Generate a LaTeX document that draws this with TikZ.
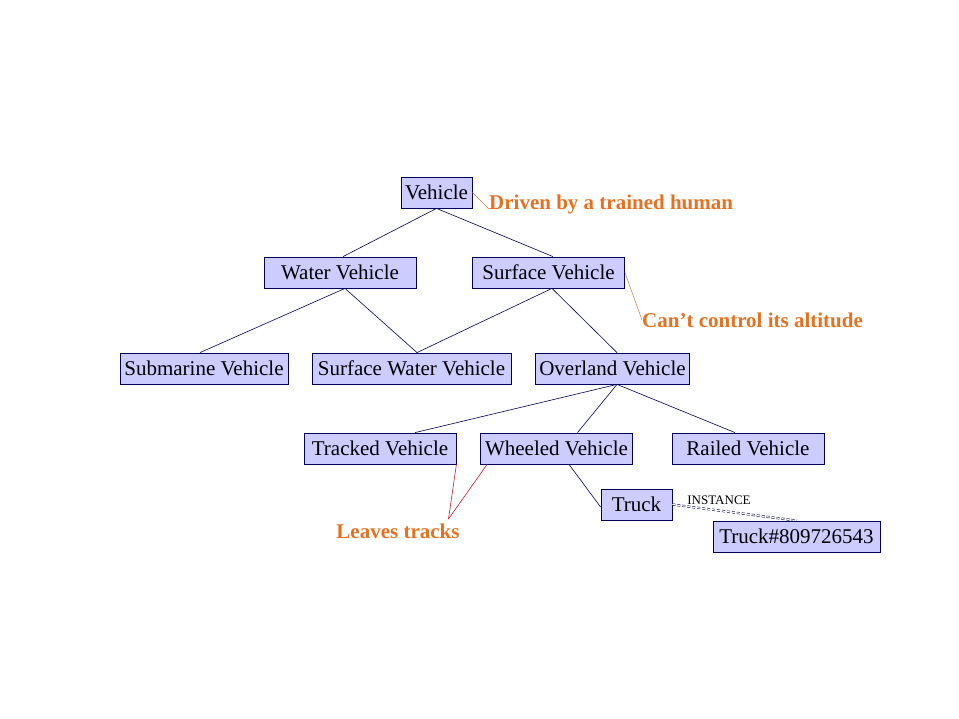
\documentclass[tikz,border=0pt]{standalone}
\usepackage{fontspec}
\setmainfont{Liberation Serif}
\usetikzlibrary{positioning}

\definecolor{boxfill}{RGB}{204,204,255}
\definecolor{boxline}{RGB}{0,0,90}
\definecolor{notetext}{RGB}{232,112,32}
\definecolor{noteline}{RGB}{200,120,60}
\definecolor{trackline}{RGB}{210,20,40}

\begin{document}
\begin{tikzpicture}[x=1pt,y=-1pt]

\tikzstyle{class} = [rectangle, draw=boxline, fill=boxfill, line width=0.8pt, minimum height=31pt, inner xsep=4pt, inner ysep=0pt, font=\fontsize{21}{21}\selectfont]
\tikzstyle{wide} = [class, minimum width=152pt]
\tikzstyle{note} = [text=notetext, inner sep=0pt, font=\fontsize{21}{21}\selectfont\bfseries]
\tikzstyle{tree} = [draw=boxline, line width=0.6pt]

\useasboundingbox (0,0) rectangle (959,719);

% classes
\node[class, minimum width=71pt] at (436.5,192.5) (vehicle) {Vehicle};
\node[wide] at (340,272.5) (water) {Water Vehicle};
\node[wide] at (548.5,272.5) (surface) {Surface Vehicle};
\node[class, minimum width=168pt] at (204,368.5) (submarine) {Submarine Vehicle};
\node[class, minimum width=199pt] at (411.5,368.5) (surfwater) {Surface Water Vehicle};
\node[wide] at (612.5,368.5) (overland) {Overland Vehicle};
\node[wide] at (380,448.5) (tracked) {Tracked Vehicle};
\node[wide] at (556.5,448.5) (wheeled) {Wheeled Vehicle};
\node[wide] at (748,448.5) (railed) {Railed Vehicle};
\node[class, minimum width=71pt] at (636.5,504.5) (truck) {Truck};
\node[class, minimum width=167pt] at (796.5,536.5) (truckid) {Truck\#809726543};

% hierarchy
\draw[tree] (vehicle.south) -- ([xshift=3pt]water.north);
\draw[tree] (vehicle.south) -- ([xshift=4.5pt]surface.north);
\draw[tree] ([xshift=5pt]water.south) -- ([xshift=-4pt]submarine.north);
\draw[tree] ([xshift=5pt]water.south) -- ([xshift=5.5pt]surfwater.north);
\draw[tree] ([xshift=3.5pt]surface.south) -- ([xshift=5.5pt]surfwater.north);
\draw[tree] ([xshift=3.5pt]surface.south) -- ([xshift=4.5pt]overland.north);
\draw[tree] ([xshift=4.5pt]overland.south) -- ([xshift=35pt]tracked.north);
\draw[tree] ([xshift=4.5pt]overland.south) -- ([xshift=21pt]wheeled.north);
\draw[tree] ([xshift=4.5pt]overland.south) -- ([xshift=-13pt]railed.north);
\draw[tree] ([xshift=12.5pt]wheeled.south) -- ([yshift=-2.5pt]truck.west);

% instance link
\node[inner sep=0pt, font=\fontsize{13}{13}\selectfont] at (719,500) (instlabel) {INSTANCE};
\draw[boxline!70!black, densely dashed, double, double distance=1.2pt, line width=0.5pt] (truck.east) -- (truckid.north);

% notes
\node[note, anchor=west] at (489,204) (driven) {Driven by a trained human};
\node[note, anchor=west] at (642,320) (altitude) {Can’t control its altitude};
\node[note] at (398,531) (leaves) {Leaves tracks};
\coordinate (apex) at (448.5,519);

\draw[noteline, line width=0.5pt] (vehicle.east) -- ([yshift=-5pt]driven.west);
\draw[noteline, line width=0.5pt] (surface.east) -- (altitude.west);
\draw[trackline, line width=0.6pt] (tracked.south east) -- (apex);
\draw[trackline, line width=0.6pt] ([xshift=7pt]wheeled.south west) -- (apex);

\end{tikzpicture}
\end{document}
